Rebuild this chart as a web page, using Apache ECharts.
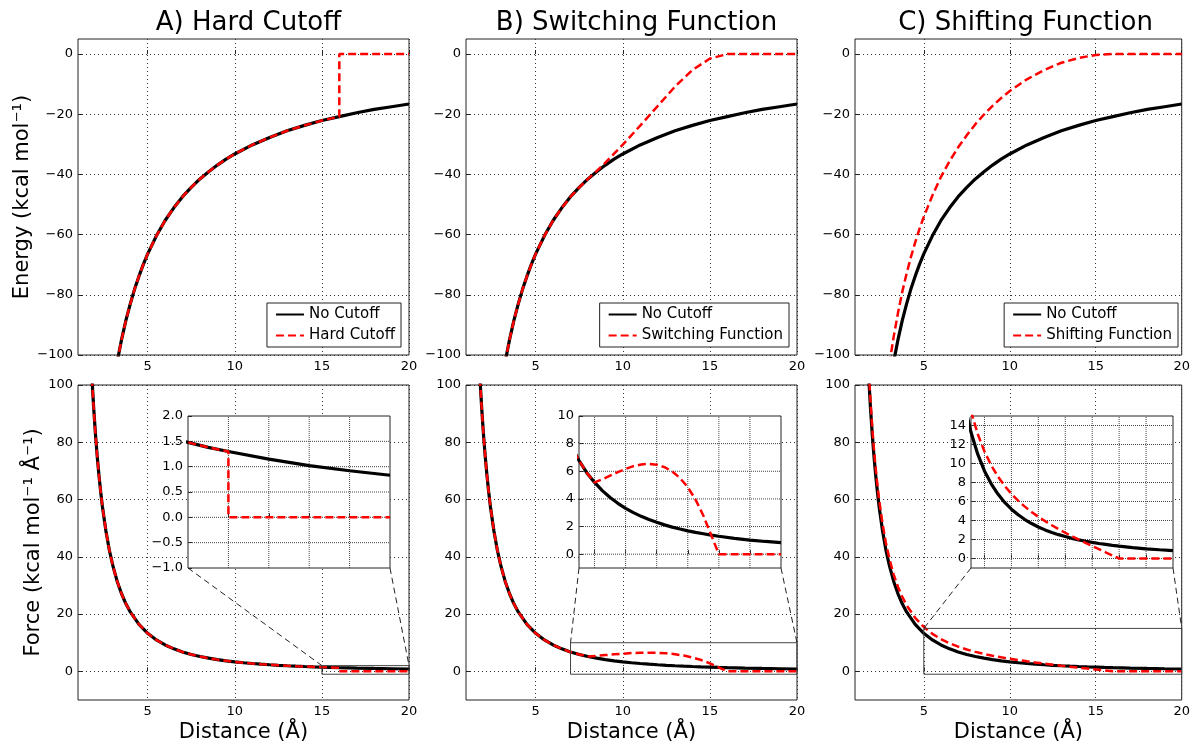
<!DOCTYPE html>
<html>
<head>
<meta charset="utf-8">
<script src="https://cdn.jsdelivr.net/npm/echarts@6/dist/echarts.min.js"></script>
<style>
  html, body { margin: 0; padding: 0; background: #fff; }
  #main { width: 1193px; height: 744px; }
</style>
</head>
<body>
<div id="main"></div>
<script>
// distances in Angstrom, energies in kcal/mol, forces in kcal/mol/A
const distE = [3, 3.25, 3.5, 3.75, 4, 4.25, 4.5, 4.75, 5, 5.5, 6, 6.5, 7, 7.5, 8, 8.5, 9, 9.5, 10, 11, 12, 13, 14, 15, 16, 17, 18, 19, 20];
const energyNoCutoff = [-110.7, -102.2, -94.9, -88.5, -83.0, -78.1, -73.8, -69.9, -66.4, -60.4, -55.3, -51.1, -47.4, -44.3, -41.5, -39.1, -36.9, -34.9, -33.2, -30.2, -27.7, -25.5, -23.7, -22.1, -20.8, -19.5, -18.4, -17.5, -16.6];
const energySwitch = [-110.7, -102.2, -94.9, -88.5, -83.0, -78.1, -73.8, -69.9, -66.4, -60.4, -55.3, -51.1, -47.4, -44.3, -41.5, -38.9, -36.1, -33.1, -30.1, -23.8, -17.3, -10.8, -5.3, -1.5, 0, 0, 0, 0, 0];
const energyShift = [-103.0, -93.9, -86.0, -79.0, -72.9, -67.5, -62.6, -58.1, -54.1, -47.0, -40.8, -35.6, -31.0, -27.0, -23.3, -20.1, -17.2, -14.6, -12.3, -8.4, -5.3, -2.9, -1.3, -0.3, 0, 0, 0, 0, 0];
const distEHard = [3, 3.25, 3.5, 3.75, 4, 4.25, 4.5, 4.75, 5, 5.5, 6, 6.5, 7, 7.5, 8, 8.5, 9, 9.5, 10, 11, 12, 13, 14, 15, 16, 16, 17, 18, 19, 20];
const energyHard = [-110.7, -102.2, -94.9, -88.5, -83.0, -78.1, -73.8, -69.9, -66.4, -60.4, -55.3, -51.1, -47.4, -44.3, -41.5, -39.1, -36.9, -34.9, -33.2, -30.2, -27.7, -25.5, -23.7, -22.1, -20.8, 0, 0, 0, 0, 0];

const distF = [1.8, 1.9, 2, 2.1, 2.2, 2.3, 2.4, 2.6, 2.8, 3, 3.25, 3.5, 3.75, 4, 4.5, 5, 5.5, 6, 6.5, 7, 7.5, 8, 8.5, 9, 9.5, 10, 10.5, 11, 11.5, 12, 12.5, 13, 13.5, 14, 14.5, 15, 15.5, 16, 17, 18, 19, 20];
const forceNoCutoff = [102.5, 92.0, 83.0, 75.3, 68.6, 62.8, 57.6, 49.1, 42.3, 36.9, 31.4, 27.1, 23.6, 20.75, 16.4, 13.28, 10.98, 9.22, 7.86, 6.78, 5.90, 5.19, 4.60, 4.10, 3.68, 3.32, 3.01, 2.74, 2.51, 2.31, 2.12, 1.96, 1.82, 1.69, 1.58, 1.48, 1.38, 1.30, 1.15, 1.02, 0.92, 0.83];
const forceSwitch = [102.5, 92.0, 83.0, 75.3, 68.6, 62.8, 57.6, 49.1, 42.3, 36.9, 31.4, 27.1, 23.6, 20.75, 16.4, 13.28, 10.98, 9.22, 7.86, 6.78, 5.90, 5.19, 5.42, 5.68, 5.94, 6.17, 6.37, 6.49, 6.54, 6.48, 6.30, 5.99, 5.51, 4.85, 3.95, 2.8, 1.4, 0, 0, 0, 0, 0];
const forceShift = [105.0, 94.5, 85.5, 77.8, 71.1, 65.3, 60.1, 51.6, 44.8, 39.4, 33.8, 29.5, 26.0, 23.1, 18.7, 15.5, 13.1, 11.27, 9.81, 8.62, 7.64, 6.81, 6.09, 5.46, 4.90, 4.39, 3.93, 3.50, 3.09, 2.71, 2.34, 1.99, 1.65, 1.31, 0.98, 0.65, 0.32, 0, 0, 0, 0, 0];
const distFHard = [1.8, 1.9, 2, 2.1, 2.2, 2.3, 2.4, 2.6, 2.8, 3, 3.25, 3.5, 3.75, 4, 4.5, 5, 5.5, 6, 6.5, 7, 7.5, 8, 8.5, 9, 9.5, 10, 10.5, 11, 11.5, 12, 12.5, 13, 13.5, 14, 14.5, 15, 15.5, 16, 16, 17, 18, 19, 20];
const forceHard = [102.5, 92.0, 83.0, 75.3, 68.6, 62.8, 57.6, 49.1, 42.3, 36.9, 31.4, 27.1, 23.6, 20.75, 16.4, 13.28, 10.98, 9.22, 7.86, 6.78, 5.90, 5.19, 4.60, 4.10, 3.68, 3.32, 3.01, 2.74, 2.51, 2.31, 2.12, 1.96, 1.82, 1.69, 1.58, 1.48, 1.38, 1.30, 0, 0, 0, 0, 0];

const panelTitles = ['A) Hard Cutoff', 'B) Switching Function', 'C) Shifting Function'];
const methodNames = ['Hard Cutoff', 'Switching Function', 'Shifting Function'];
const distTicks = [5, 10, 15, 20];
const energyTicks = [-100, -80, -60, -40, -20, 0];
const forceTicks = [0, 20, 40, 60, 80, 100];
// zoomed windows of the insets
const insetX = [[15, 20], [7, 20], [5, 20]];
const insetY = [[-1, 2], [-1, 10], [-1, 15]];
const insetXTicks = [[16, 17, 18, 19], [8, 10, 12, 14, 16, 18], [6, 8, 10, 12, 14, 16, 18]];
const insetYTicks = [[-0.5, 0, 0.5, 1, 1.5], [0, 2, 4, 6, 8], [0, 2, 4, 6, 8, 10, 12, 14]];
const insetYLabels = [[-1, -0.5, 0, 0.5, 1, 1.5, 2], [0, 2, 4, 6, 8, 10], [0, 2, 4, 6, 8, 10, 12, 14]];

const FONT = 'DejaVu Sans';
const minus = s => String(s).replace('-', '\u2212');

const cols = [78, 466, 855];
const plotW = 331;
const rowTop = [39, 385];
const rowH = [316, 317];
const insetLeft = [188, 579, 971];

const chart = echarts.init(document.getElementById('main'));

const grids = [], xAxes = [], yAxes = [], series = [];
const dotted = { color: '#333', width: 1, type: [1, 3] };

function addAxes(gi, xmin, xmax, xt, ymin, ymax, yt, opts) {
  xAxes.push({
    gridIndex: gi, type: 'value', min: xmin, max: xmax, z: opts.z,
    axisLine: { show: false },
    axisTick: { show: true, inside: true, length: 4, customValues: xt, lineStyle: { color: '#222' } },
    axisLabel: { show: opts.xLabels, customValues: xt, margin: 5, fontFamily: FONT, fontSize: 13, color: '#000' },
    splitLine: { show: opts.split, lineStyle: dotted },
    name: opts.xName || '', nameLocation: 'middle', nameGap: 22,
    nameTextStyle: { fontFamily: FONT, fontSize: 21, color: '#000' }
  });
  yAxes.push({
    gridIndex: gi, type: 'value', min: ymin, max: ymax, z: opts.z,
    axisLine: { show: false },
    axisTick: { show: true, inside: true, length: 4, customValues: yt, lineStyle: { color: '#222' } },
    axisLabel: { customValues: yt, margin: 5, fontFamily: FONT, fontSize: 13, color: '#000', formatter: opts.yFmt || minus },
    splitLine: { show: opts.split, lineStyle: dotted },
    name: opts.yName || '', nameLocation: 'middle', nameGap: opts.yGap || 40,
    nameTextStyle: { fontFamily: FONT, fontSize: 21, color: '#000' }
  });
}

function line(name, xs, ys, gi, red, z) {
  return {
    type: 'line', name: name, xAxisIndex: gi, yAxisIndex: gi, z: z,
    data: xs.map((x, i) => [x, ys[i]]),
    symbol: 'none', silent: true, animation: false,
    lineStyle: red ? { color: '#ff0000', width: 2.5, type: [8, 4] } : { color: '#000', width: 3.2 },
    itemStyle: { color: red ? '#ff0000' : '#000' }
  };
}

// a dotted grid line of an inset: a two-point line series at a tick value
function gridLine(gi, p, q) {
  return {
    type: 'line', name: 'grid', xAxisIndex: gi, yAxisIndex: gi, z: 6,
    data: [p, q], symbol: 'none', silent: true, animation: false, clip: false,
    lineStyle: { color: '#444', width: 1, type: 'dotted' }, itemStyle: { color: '#444' }
  };
}

// top row: energy, bottom row: force
for (let r = 0; r < 2; r++) {
  for (let c = 0; c < 3; c++) {
    const gi = grids.length;
    grids.push({ left: cols[c], top: rowTop[r], width: plotW, height: rowH[r],
      show: true, borderColor: '#222', borderWidth: 1, backgroundColor: 'transparent' });
    if (r === 0) {
      addAxes(gi, 1, 20, distTicks, -100, 5, energyTicks, {
        xLabels: true, z: 0, split: true,
        yName: c === 0 ? 'Energy (kcal mol\u207B\u00B9)' : '', yGap: 45
      });
    } else {
      addAxes(gi, 1, 20, distTicks, -10, 100, forceTicks, {
        xLabels: true, z: 0, split: true, xName: 'Distance (\u00C5)',
        yName: c === 0 ? 'Force (kcal mol\u207B\u00B9 \u00C5\u207B\u00B9)' : '', yGap: 34
      });
    }
  }
}
series.push(line('No Cutoff', distE, energyNoCutoff, 0, false, 2));
series.push(line(methodNames[0], distEHard, energyHard, 0, true, 3));
series.push(line('No Cutoff', distE, energyNoCutoff, 1, false, 2));
series.push(line(methodNames[1], distE, energySwitch, 1, true, 3));
series.push(line('No Cutoff', distE, energyNoCutoff, 2, false, 2));
series.push(line(methodNames[2], distE, energyShift, 2, true, 3));
series.push(line('No Cutoff', distF, forceNoCutoff, 3, false, 2));
series.push(line(methodNames[0], distFHard, forceHard, 3, true, 3));
series.push(line('No Cutoff', distF, forceNoCutoff, 4, false, 2));
series.push(line(methodNames[1], distF, forceSwitch, 4, true, 3));
series.push(line('No Cutoff', distF, forceNoCutoff, 5, false, 2));
series.push(line(methodNames[2], distF, forceShift, 5, true, 3));

// insets
const insetRed = [[distFHard, forceHard], [distF, forceSwitch], [distF, forceShift]];
for (let c = 0; c < 3; c++) {
  const gi = grids.length;
  const [x0, x1] = insetX[c], [y0, y1] = insetY[c];
  grids.push({ left: insetLeft[c], top: 416, width: 202, height: 152, z: 1,
    show: true, borderColor: '#222', borderWidth: 1, backgroundColor: '#fff' });
  addAxes(gi, x0, x1, insetXTicks[c], y0, y1, insetYLabels[c], {
    xLabels: false, z: 5, split: false,
    yFmt: c === 0 ? (v => minus(Number(v).toFixed(1))) : minus
  });
  insetXTicks[c].forEach(v => series.push(gridLine(gi, [v, y0], [v, y1])));
  insetYTicks[c].forEach(v => series.push(gridLine(gi, [x0, v], [x1, v])));
  series.push(line('No Cutoff', distF, forceNoCutoff, gi, false, 7));
  series.push(line(methodNames[c], insetRed[c][0], insetRed[c][1], gi, true, 8));
}

const titles = panelTitles.map((t, c) => ({
  text: t, left: cols[c] + plotW / 2, top: 5, textAlign: 'center',
  textStyle: { fontFamily: FONT, fontSize: 26, fontWeight: 'normal', color: '#000' }
}));

const legends = methodNames.map((m, c) => ({
  orient: 'vertical', right: 1193 - (cols[c] + plotW) + 8, bottom: 397,
  data: [{ name: 'No Cutoff' }, { name: m }],
  backgroundColor: '#fff', borderColor: '#222', borderWidth: 1,
  padding: [4, 6, 4, 8], itemWidth: 28, itemHeight: 14, itemGap: 6,
  itemStyle: { opacity: 0 },
  textStyle: { fontFamily: FONT, fontSize: 15, color: '#000' },
  selectedMode: false
}));

chart.setOption({
  animation: false,
  backgroundColor: '#fff',
  title: titles,
  legend: legends,
  grid: grids,
  xAxis: xAxes,
  yAxis: yAxes,
  series: series
});

// zoom rectangles and connectors, placed through the axes' own scales
const marks = [];
for (let c = 0; c < 3; c++) {
  const main = { xAxisIndex: 3 + c, yAxisIndex: 3 + c };
  const ins = { xAxisIndex: 6 + c, yAxisIndex: 6 + c };
  const [x0, x1] = insetX[c], [y0, y1] = insetY[c];
  const lo = chart.convertToPixel(ins, [x0, y0]);
  const hi = chart.convertToPixel(ins, [x1, y1]);
  const a = chart.convertToPixel(main, [x0, y0]);
  const b = chart.convertToPixel(main, [x1, y1]);
  marks.push({ type: 'rect', z: 10, silent: true,
    shape: { x: a[0], y: b[1], width: b[0] - a[0], height: a[1] - b[1] },
    style: { fill: null, stroke: '#444', lineWidth: 1 } });
  marks.push({ type: 'line', z: 10, silent: true,
    shape: { x1: lo[0], y1: lo[1], x2: a[0], y2: b[1] },
    style: { stroke: '#222', lineWidth: 1, lineDash: [6, 4] } });
  marks.push({ type: 'line', z: 10, silent: true,
    shape: { x1: hi[0], y1: lo[1], x2: b[0], y2: b[1] },
    style: { stroke: '#222', lineWidth: 1, lineDash: [6, 4] } });
}
chart.setOption({ graphic: marks });
</script>
</body>
</html>
